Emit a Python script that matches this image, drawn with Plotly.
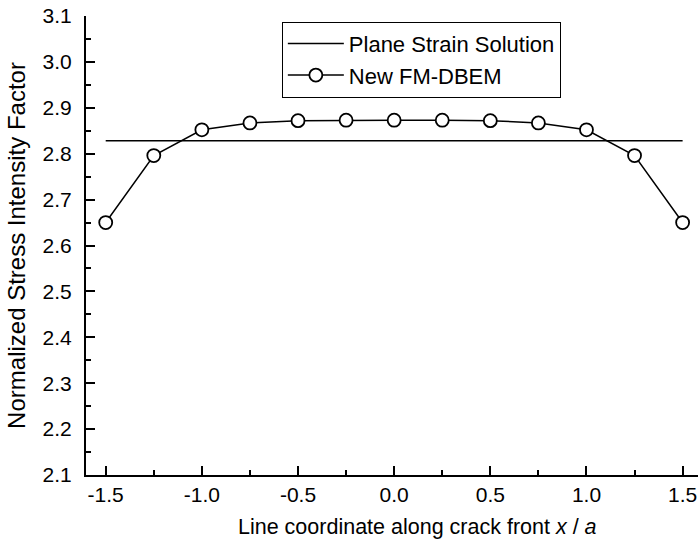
import plotly.graph_objects as go

# Data
x_pos = [-1.5, -1.25, -1.0, -0.75, -0.5, -0.25, 0.0, 0.25, 0.5, 0.75, 1.0, 1.25, 1.5]
fm_dbem = [2.650, 2.796, 2.852, 2.867, 2.872, 2.873, 2.873, 2.873, 2.872, 2.867, 2.852, 2.796, 2.650]
plane_x = [-1.5, 1.5]
plane_y = [2.828, 2.828]
x_ticks = [-1.5, -1.0, -0.5, 0.0, 0.5, 1.0, 1.5]
y_ticks = [2.1, 2.2, 2.3, 2.4, 2.5, 2.6, 2.7, 2.8, 2.9, 3.0, 3.1]

FONT = "Arial, Liberation Sans, Helvetica, sans-serif"

fig = go.Figure()
fig.add_trace(go.Scatter(
    x=plane_x, y=plane_y, mode="lines", name="Plane Strain Solution",
    line=dict(color="black", width=1.5)))
fig.add_trace(go.Scatter(
    x=x_pos, y=fm_dbem, mode="lines+markers", name="New FM-DBEM",
    line=dict(color="black", width=1.5),
    marker=dict(symbol="circle", size=13, color="white",
                line=dict(color="black", width=1.8))))

fig.update_layout(
    width=698, height=543,
    margin=dict(l=86, r=0, t=16, b=68),
    paper_bgcolor="white", plot_bgcolor="white",
    font=dict(family=FONT, size=21, color="black"),
    showlegend=True,
    legend=dict(x=0.32, y=0.9876, xanchor="left", yanchor="top",
                bgcolor="white", bordercolor="black", borderwidth=1,
                font=dict(size=22, family=FONT), itemwidth=56,
                tracegroupgap=0),
    annotations=[dict(
        text="Line coordinate along crack front <i>x</i> / <i>a</i>",
        xref="paper", yref="paper", x=0.541, y=-0.114,
        xanchor="center", yanchor="middle", showarrow=False,
        font=dict(size=21.5, family=FONT, color="black"))],
)

fig.update_xaxes(
    range=[-1.6025, 1.58], tickmode="array", tickvals=x_ticks,
    ticktext=[f"{v:.1f}" for v in x_ticks],
    ticks="inside", ticklen=9, tickwidth=1.5, tickcolor="black",
    minor=dict(dtick=0.25, tick0=-1.5, ticks="inside", ticklen=5, tickwidth=1.5, tickcolor="black"),
    showline=True, linecolor="black", linewidth=2, mirror=False,
    showgrid=False, zeroline=False,
    tickfont=dict(size=21, family=FONT),
    ticklabelstandoff=0,
)
fig.update_yaxes(
    range=[2.1, 3.1], tickmode="array", tickvals=y_ticks,
    ticktext=[f"{v:.1f}" for v in y_ticks],
    ticks="inside", ticklen=9, tickwidth=1.5, tickcolor="black",
    minor=dict(dtick=0.05, tick0=2.1, ticks="inside", ticklen=5, tickwidth=1.5, tickcolor="black"),
    showline=True, linecolor="black", linewidth=2, mirror=False,
    showgrid=False, zeroline=False,
    tickfont=dict(size=21, family=FONT),
    ticklabelstandoff=8,
    title=dict(text="Normalized Stress Intensity Factor",
               font=dict(size=24, family=FONT), standoff=10),
)

fig.write_html("out.html", config={"displayModeBar": False},
               post_script="document.body.style.margin='0px';")
